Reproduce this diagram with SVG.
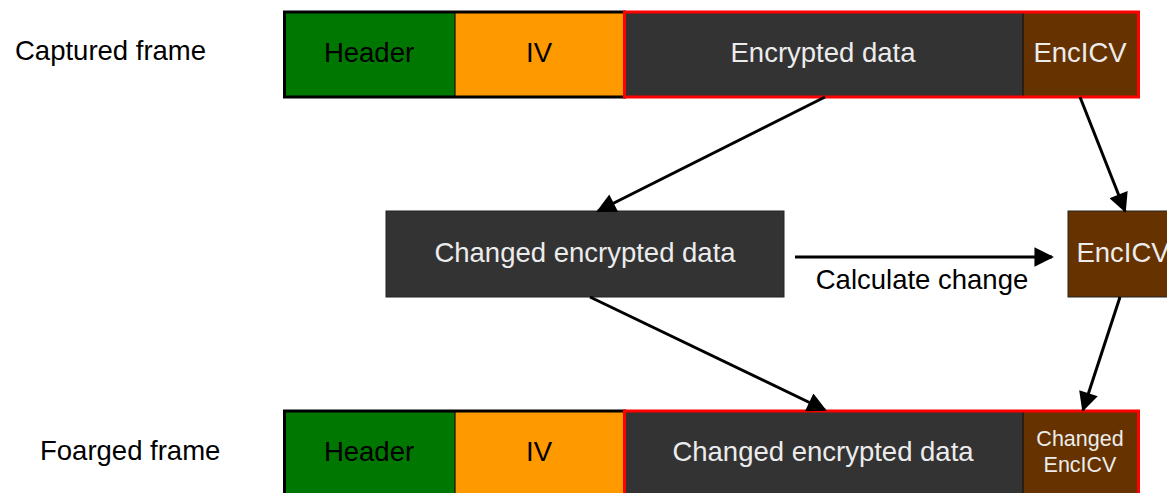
<svg xmlns="http://www.w3.org/2000/svg" width="1167" height="493" viewBox="0 0 1167 493">
<style>
text{font-family:"Liberation Sans",Arial,sans-serif;font-size:27.5px;text-anchor:middle}
.dk{fill:#ececec}
.lbl{fill:#000;text-anchor:start}
.hd{fill:#007700}
.iv{fill:#ff9900}
.ed{fill:#333333}
.ic{fill:#663300}
.blk{fill:none;stroke:#000;stroke-width:3}
.red{fill:none;stroke:#ff0000;stroke-width:3}
.div{stroke:#111;stroke-width:1.2}
.conn{stroke:#000;stroke-width:3;fill:none;marker-end:url(#ah)}
</style>
<defs>
<marker id="ah" viewBox="0 0 10 10" refX="9" refY="5" markerWidth="7.5" markerHeight="6.5" markerUnits="strokeWidth" orient="auto">
<path d="M0,0 L10,5 L0,10 Z" fill="#000"/>
</marker>
</defs>
<rect width="1167" height="493" fill="#fff"/>
<g id="label-captured"><text class="lbl" x="15" y="60">Captured frame</text></g>
<g id="label-forged"><text class="lbl" x="40" y="460">Foarged frame</text></g>

<g id="top-frame">
<rect class="hd" x="284" y="12" width="171" height="85"/>
<rect class="iv" x="455" y="12" width="169" height="85"/>
<rect class="ed" x="624" y="12" width="399" height="85"/>
<rect class="ic" x="1023" y="12" width="116" height="85"/>
<line class="div" x1="455" y1="12" x2="455" y2="97"/>
<line class="div" x1="1023" y1="12" x2="1023" y2="97"/>
<rect class="blk" x="284.5" y="12" width="340" height="85"/>
<rect class="red" x="624.5" y="12" width="514" height="85"/>
<text x="369" y="62">Header</text>
<text x="539" y="62">IV</text>
<text class="dk" x="823" y="62">Encrypted data</text>
<text class="dk" x="1080" y="62">EncICV</text>
</g>

<g id="changed-data">
<rect class="ed" x="386" y="211" width="398" height="86" stroke="#222" stroke-width="1"/>
<text class="dk" x="585" y="262">Changed encrypted data</text>
</g>

<g id="enc-icv">
<rect class="ic" x="1068" y="211" width="110" height="86" stroke="#222" stroke-width="1"/>
<text class="dk" x="1123" y="262">EncICV</text>
</g>

<g id="bottom-frame">
<rect class="hd" x="284" y="411" width="171" height="90"/>
<rect class="iv" x="455" y="411" width="169" height="90"/>
<rect class="ed" x="624" y="411" width="399" height="90"/>
<rect class="ic" x="1023" y="411" width="116" height="90"/>
<line class="div" x1="455" y1="411" x2="455" y2="501"/>
<line class="div" x1="1023" y1="411" x2="1023" y2="501"/>
<rect class="blk" x="284.5" y="411" width="340" height="90"/>
<rect class="red" x="624.5" y="411" width="514" height="90"/>
<text x="369" y="461">Header</text>
<text x="539" y="461">IV</text>
<text class="dk" x="823" y="461">Changed encrypted data</text>
<text class="dk" x="1080" y="446" style="font-size:21.5px">Changed</text>
<text class="dk" x="1080" y="472" style="font-size:21.5px">EncICV</text>
</g>

<g id="connectors">
<line class="conn" x1="825" y1="97" x2="598" y2="211"/>
<line class="conn" x1="1080" y1="97" x2="1125" y2="211"/>
<line class="conn" x1="590" y1="297" x2="825" y2="410"/>
<line class="conn" x1="1120" y1="297" x2="1083" y2="410"/>
<line class="conn" x1="795" y1="257" x2="1052" y2="257"/>
<text x="922" y="289">Calculate change</text>
</g>
</svg>
